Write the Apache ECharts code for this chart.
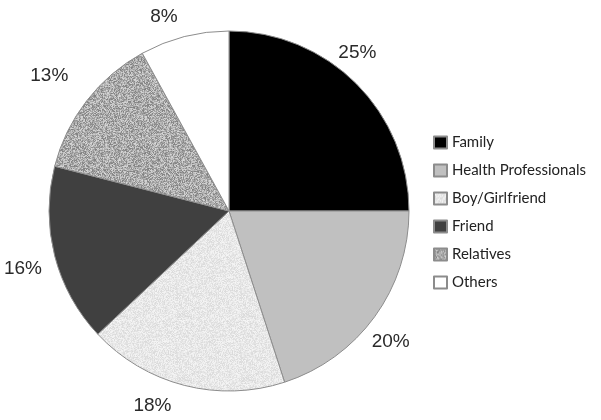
<!DOCTYPE html>
<html>
<head>
<meta charset="utf-8">
<script src="https://cdn.jsdelivr.net/npm/echarts@6/dist/echarts.min.js"></script>
<style>
  html, body { margin: 0; padding: 0; background: #fff; }
  #chart { width: 601px; height: 420px; }
</style>
</head>
<body>
<div id="chart"></div>
<script>
// data
const categories = ['Family', 'Health Professionals', 'Boy/Girlfriend', 'Friend', 'Relatives', 'Others']
const shares = [25, 20, 18, 16, 13, 8]

// where the % labels sit (degrees clockwise from 12 o'clock, distance from centre)
const labelAngle = [39, 129, 201.5, 254.3, 307, 341.5]
const labelDist = [204, 208, 209, 214, 225, 205]

const CX = 229
const CY = 211
const R = 180

// speckled fill, deterministic so every render looks the same
function speckle(base, spread, seed) {
  const c = document.createElement('canvas')
  c.width = 64
  c.height = 64
  const ctx = c.getContext('2d')
  const img = ctx.createImageData(64, 64)
  let s = seed
  for (let i = 0; i < 64 * 64; i++) {
    s = (s * 1103515245 + 12345) & 0x7fffffff
    const v = Math.max(0, Math.min(255, base + ((s >> 8) % (spread * 2)) - spread))
    img.data[i * 4] = v
    img.data[i * 4 + 1] = v
    img.data[i * 4 + 2] = v
    img.data[i * 4 + 3] = 255
  }
  ctx.putImageData(img, 0, 0)
  return { image: c, repeat: 'repeat' }
}

const fills = [
  '#000000',
  '#c0c0c0',
  speckle(232, 14, 7),
  '#404040',
  speckle(172, 45, 13),
  '#ffffff',
]

const chart = echarts.init(document.getElementById('chart'))
chart.setOption({
  animation: false,
  legend: {
    orient: 'vertical',
    left: 428,
    top: 130,
    itemWidth: 13,
    itemHeight: 12,
    itemGap: 13,
    icon: 'rect',
    textStyle: { fontFamily: 'Lato', fontSize: 15, color: '#222', lineHeight: 15 },
    data: categories,
  },
  series: [
    {
      type: 'pie',
      center: [CX, CY],
      radius: R,
      startAngle: 90,
      clockwise: true,
      itemStyle: { borderColor: '#8c8c8c', borderWidth: 1 },
      label: {
        position: 'outside',
        fontFamily: 'Liberation Sans',
        fontSize: 19,
        color: '#2a2a2a',
        overflow: 'none',
        formatter: (p) => p.value + '%',
      },
      labelLine: { show: false },
      labelLayout: (p) => {
        const a = (labelAngle[p.dataIndex] * Math.PI) / 180
        const d = labelDist[p.dataIndex]
        return {
          x: CX + d * Math.sin(a),
          y: CY - d * Math.cos(a),
          align: 'center',
          verticalAlign: 'middle',
        }
      },
      data: categories.map((name, i) => ({
        name,
        value: shares[i],
        itemStyle: { color: fills[i] },
      })),
    },
  ],
})
</script>
</body>
</html>
